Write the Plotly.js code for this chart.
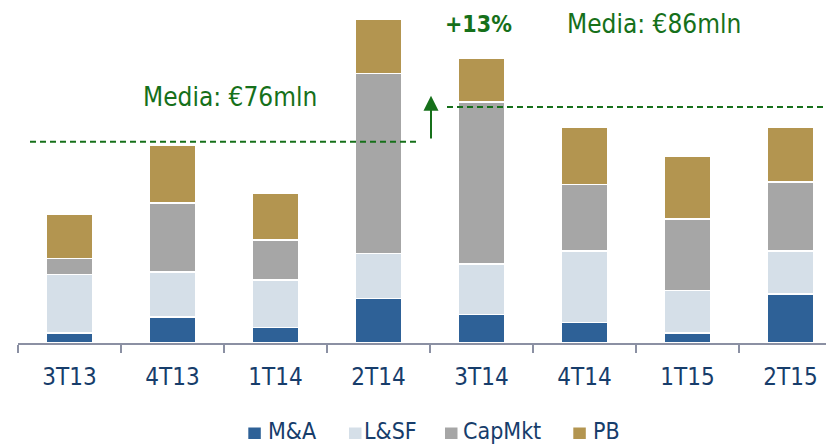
<!DOCTYPE html>
<html>
<head>
<meta charset="utf-8">
<script src="https://cdn.plot.ly/plotly-3.0.1.min.js"></script>
<style>
  html, body { margin: 0; padding: 0; background: #ffffff; }
  #chart { width: 826px; height: 445px; }
</style>
</head>
<body>
<div id="chart"></div>
<script>
// ---- data (€ mln) ----
const categories = ['3T13', '4T13', '1T14', '2T14', '3T14', '4T14', '1T15', '2T15'];
const seriesNames = ['M&A', 'L&SF', 'CapMkt', 'PB'];
const mna    = [3.8, 9.9, 5.9, 16.9, 10.9, 7.8, 3.8, 18.7];
const lsf    = [22.3, 17.1, 18.1, 17.1, 19.2, 27.2, 16.1, 16.3];
const capmkt = [6.0, 26.2, 15.1, 68.4, 61.4, 25.2, 27.2, 26.1];
const pb     = [16.8, 21.8, 17.9, 20.8, 16.7, 21.8, 23.8, 20.9];
const avgLabels = ['Media: €76mln', 'Media: €86mln'];
const avgLineLevels = [76.5, 89.7];
const growthLabel = '+13%';

// ---- style ----
const colors = ['#2e6197', '#d5dfe8', '#a6a6a6', '#b39550'];
const green = '#16701a';
const navy = '#173d6b';
const FONT = '"DejaVu Sans Condensed", "DejaVu Sans", sans-serif';

const W = 826, H = 445, ML = 18, MR = 0, MT = 0, MB = 102;
const PW = W - ML - MR, PH = H - MT - MB;
const px2paperX = px => (px - ML) / PW;
const px2paperY = py => (H - MB - py) / PH;
const catW = 103;
const px2dataX = px => (px - ML) / catW - 0.5;
const yMax = 130.34;

const seriesValues = [mna, lsf, capmkt, pb];
const traces = seriesNames.map((name, i) => ({
  type: 'bar',
  name: name,
  x: categories,
  y: seriesValues[i],
  marker: { color: colors[i], line: { color: '#ffffff', width: 1.5 } },
  showlegend: false,
  hoverinfo: 'x+y+name'
}));

const shapes = [
  { type: 'line', xref: 'x', yref: 'y', x0: px2dataX(30), x1: px2dataX(416), y0: avgLineLevels[0], y1: avgLineLevels[0],
    line: { color: green, width: 2, dash: '6px,4px' } },
  { type: 'line', xref: 'x', yref: 'y', x0: px2dataX(447), x1: px2dataX(830), y0: avgLineLevels[1], y1: avgLineLevels[1],
    line: { color: green, width: 2, dash: '6px,4px' } }
];

const annotations = [
  { xref: 'x', yref: 'y', x: px2dataX(230), y: 93.3, text: avgLabels[0], showarrow: false,
    font: { family: FONT, size: 26, color: green } },
  { xref: 'x', yref: 'y', x: px2dataX(654), y: 121.3, text: avgLabels[1], showarrow: false,
    font: { family: FONT, size: 26, color: green } },
  { xref: 'x', yref: 'y', x: px2dataX(478.5), y: 121.3, text: '<b>' + growthLabel + '</b>', showarrow: false,
    font: { family: FONT, size: 23, color: green } },
  { xref: 'x', yref: 'y', x: px2dataX(431), y: 94, ax: px2dataX(431), ay: 77.1, axref: 'x', ayref: 'y',
    text: '', showarrow: true, arrowhead: 2, arrowsize: 1.5, arrowwidth: 2, arrowcolor: green }
];

// manual legend
const legSquareX = [248.3, 349, 445, 573.3];
const legTextX = [267.7, 364.3, 463.3, 593.3];
seriesNames.forEach((name, i) => {
  shapes.push({ type: 'rect', xref: 'paper', yref: 'paper',
    x0: px2paperX(legSquareX[i]), x1: px2paperX(legSquareX[i] + 12.5),
    y0: px2paperY(439), y1: px2paperY(427.5),
    fillcolor: colors[i], line: { width: 0 } });
  annotations.push({ xref: 'paper', yref: 'paper', x: px2paperX(legTextX[i] - 1), y: px2paperY(430.5),
    xanchor: 'left', yanchor: 'middle', text: name, showarrow: false, borderpad: 0,
    font: { family: FONT, size: 23, color: navy } });
});

const layout = {
  width: W, height: H,
  margin: { l: ML, r: MR, t: MT, b: MB, pad: 0 },
  paper_bgcolor: '#ffffff', plot_bgcolor: '#ffffff',
  barmode: 'stack',
  bargap: 0.54,
  showlegend: false,
  xaxis: {
    type: 'category',
    range: [-0.5, px2dataX(W)],
    showline: true, linecolor: '#8b90a3', linewidth: 2,
    ticks: 'outside', tickson: 'boundaries', ticklen: 8, tickwidth: 1.5, tickcolor: '#8b90a3',
    ticklabelstandoff: 11,
    tickfont: { family: FONT, size: 24, color: navy },
    showgrid: false, zeroline: false, fixedrange: true
  },
  yaxis: { range: [0, yMax], visible: false, showgrid: false, zeroline: false, fixedrange: true },
  shapes: shapes,
  annotations: annotations
};

Plotly.newPlot('chart', traces, layout, { displayModeBar: false, staticPlot: true });
</script>
</body>
</html>
